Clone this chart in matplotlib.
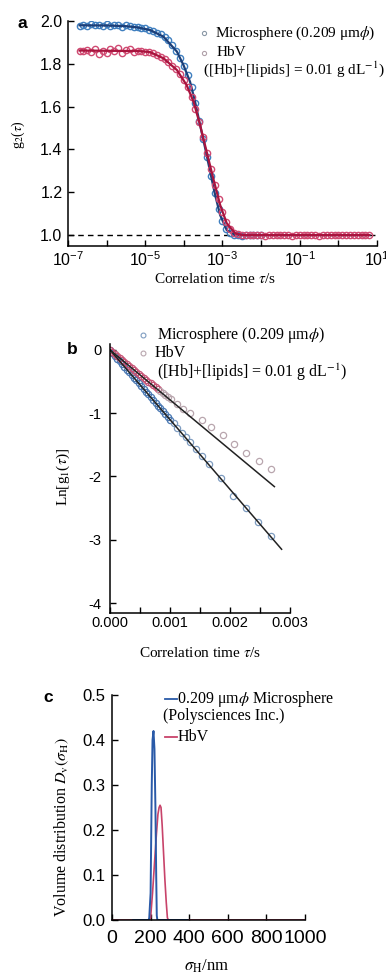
import numpy as np
import matplotlib
matplotlib.use("Agg")
import matplotlib.pyplot as plt
from matplotlib.lines import Line2D
from matplotlib.ticker import MultipleLocator, NullLocator, FormatStrFormatter

plt.rcParams['font.family'] = ['Liberation Sans', 'DejaVu Sans']
plt.rcParams['mathtext.fontset'] = 'stix'

# --- Panel a: g2(tau), markers (log10 tau) and fitted curves ---
a_logtau_ms = [-6.7, -6.6, -6.5, -6.4, -6.3, -6.2, -6.1, -6.0, -5.9, -5.8, -5.7, -5.6,
               -5.5, -5.4, -5.3, -5.2, -5.1, -5.0, -4.9, -4.8, -4.7, -4.6, -4.5, -4.4,
               -4.3, -4.2, -4.1, -4.0, -3.9, -3.8, -3.7, -3.6, -3.5, -3.4, -3.3, -3.2,
               -3.1, -3.0, -2.9, -2.8, -2.7, -2.6, -2.5, -2.4, -2.3, -2.2, -2.1, -2.0]
a_g2_ms = [1.978, 1.982, 1.976, 1.984, 1.979, 1.981, 1.975, 1.986, 1.978, 1.980, 1.983, 1.974,
           1.979, 1.977, 1.972, 1.971, 1.966, 1.965, 1.958, 1.953, 1.946, 1.937, 1.924, 1.910,
           1.890, 1.862, 1.828, 1.790, 1.748, 1.692, 1.615, 1.532, 1.448, 1.363, 1.278, 1.195,
           1.120, 1.065, 1.028, 1.010, 1.002, 0.999, 0.998, 1.000, 0.999, 1.001, 0.999, 1.000]
a_logtau_hbv = [-6.7, -6.6, -6.5, -6.4, -6.3, -6.2, -6.1, -6.0, -5.9, -5.8, -5.7, -5.6,
                -5.5, -5.4, -5.3, -5.2, -5.1, -5.0, -4.9, -4.8, -4.7, -4.6, -4.5, -4.4,
                -4.3, -4.2, -4.1, -4.0, -3.9, -3.8, -3.7, -3.6, -3.5, -3.4, -3.3, -3.2,
                -3.1, -3.0, -2.9, -2.8, -2.7, -2.6, -2.5, -2.4, -2.3, -2.2, -2.1, -2.0,
                -1.9, -1.8, -1.7, -1.6, -1.5, -1.4, -1.3, -1.2, -1.1, -1.0, -0.9, -0.8,
                -0.7, -0.6, -0.5, -0.4, -0.3, -0.2, -0.1, 0.0, 0.1, 0.2, 0.3, 0.4,
                0.5, 0.6, 0.7, 0.8]
a_g2_hbv = [1.862, 1.858, 1.866, 1.855, 1.870, 1.845, 1.862, 1.850, 1.868, 1.858, 1.876, 1.850,
            1.864, 1.870, 1.857, 1.862, 1.858, 1.856, 1.853, 1.849, 1.842, 1.834, 1.822, 1.808,
            1.792, 1.774, 1.752, 1.726, 1.690, 1.646, 1.590, 1.528, 1.460, 1.382, 1.308, 1.236,
            1.168, 1.110, 1.060, 1.030, 1.012, 1.005, 1.002, 1.000, 1.001, 0.999, 1.002, 1.000,
            0.998, 1.001, 1.000, 1.002, 0.999, 1.000, 1.001, 0.998, 1.000, 1.002, 1.000, 0.999,
            1.001, 1.000, 0.998, 1.001, 1.000, 1.002, 0.999, 1.000, 1.001, 0.999, 1.000, 1.002,
            1.000, 0.999, 1.001, 1.000]
a_fit_logtau_ms = [-6.7, -6.0, -5.5, -5.2, -4.88, -4.53, -4.18, -4.01, -3.84, -3.71, -3.58,
                   -3.45, -3.32, -3.19, -3.06, -2.89, -2.67, 0.8]
a_fit_g2_ms = [1.980, 1.979, 1.976, 1.970, 1.958, 1.927, 1.857, 1.794, 1.716, 1.623, 1.514,
               1.407, 1.296, 1.187, 1.093, 1.023, 1.000, 1.000]
a_fit_logtau_hbv = [-6.7, -6.0, -5.5, -5.2, -4.88, -4.53, -4.18, -3.93, -3.75, -3.58, -3.41,
                    -3.24, -3.06, -2.89, -2.67, -2.47, 0.8]
a_fit_g2_hbv = [1.862, 1.861, 1.860, 1.860, 1.855, 1.826, 1.771, 1.701, 1.623, 1.514, 1.389,
                1.265, 1.140, 1.055, 1.008, 1.000, 1.000]

# --- Panel b: Ln g1(tau) vs tau (ms) ---
b_tau_ms = [0.00, 0.04, 0.08, 0.12, 0.16, 0.20, 0.24, 0.28, 0.32, 0.36, 0.40, 0.44, 0.48,
            0.52, 0.56, 0.60, 0.64, 0.68, 0.72, 0.76, 0.80, 0.84, 0.88, 0.92, 0.96, 1.00,
            1.06, 1.12, 1.20, 1.26, 1.34, 1.43, 1.54, 1.65, 1.85, 2.05, 2.27, 2.47, 2.68]
b_lng1_ms = [0.00, -0.05, -0.09, -0.14, -0.17, -0.22, -0.27, -0.31, -0.35, -0.40, -0.44, -0.48,
             -0.53, -0.57, -0.62, -0.66, -0.70, -0.75, -0.79, -0.84, -0.88, -0.92, -0.97,
             -1.01, -1.06, -1.10, -1.16, -1.23, -1.31, -1.38, -1.46, -1.56, -1.68, -1.81,
             -2.03, -2.31, -2.50, -2.72, -2.94]
b_tau_hbv = [0.00, 0.04, 0.08, 0.12, 0.16, 0.20, 0.24, 0.28, 0.32, 0.36, 0.40, 0.44, 0.48,
             0.52, 0.56, 0.60, 0.64, 0.68, 0.72, 0.76, 0.80, 0.84, 0.88, 0.92, 0.96, 1.02,
             1.12, 1.22, 1.34, 1.54, 1.68, 1.88, 2.07, 2.27, 2.49, 2.69]
b_lng1_hbv = [0.00, -0.03, -0.06, -0.10, -0.13, -0.16, -0.19, -0.22, -0.25, -0.28, -0.32,
              -0.35, -0.38, -0.41, -0.44, -0.47, -0.50, -0.53, -0.56, -0.59, -0.62, -0.65,
              -0.68, -0.71, -0.74, -0.78, -0.86, -0.93, -1.00, -1.10, -1.22, -1.35, -1.48,
              -1.63, -1.75, -1.88]
b_fit_tau_ms = [0.0, 2.86]
b_fit_lng1_ms = [0.0, -3.15]
b_fit_tau_hbv = [0.0, 2.74]
b_fit_lng1_hbv = [0.0, -2.16]

# --- Panel c: volume distribution vs hydrodynamic diameter (nm) ---
c_d_ms = [110, 190, 193, 200, 206, 210, 215, 220, 225, 229, 232, 235, 390]
c_dv_ms = [0.0, 0.0, 0.005, 0.06, 0.30, 0.40, 0.42, 0.38, 0.25, 0.10, 0.01, 0.0, 0.0]
c_d_hbv = [0, 195, 200, 210, 220, 230, 238, 244, 249, 254, 260, 267, 274, 281, 287, 292, 1000]
c_dv_hbv = [0.0, 0.0, 0.005, 0.06, 0.125, 0.19, 0.235, 0.25, 0.255, 0.25, 0.21, 0.15, 0.09,
            0.04, 0.005, 0.0, 0.0]

W, H = 386, 975
SERIF = ['Liberation Serif', 'DejaVu Serif']
BLUE_M, RED_M = '#3f7fbf', '#d04a72'

fig = plt.figure(figsize=(W / 100, H / 100), dpi=100)


def rect(x0, y0, x1, y1):
    return [x0 / W, 1 - y1 / H, (x1 - x0) / W, (y1 - y0) / H]


def ftext(x, y, s, **kw):
    fig.text(x / W, 1 - y / H, s, **kw)


def fmark(x, y, **kw):
    fig.add_artist(Line2D([x / W], [1 - y / H], transform=fig.transFigure, **kw))


def fline(x0, x1, y, **kw):
    fig.add_artist(Line2D([x0 / W, x1 / W], [1 - y / H] * 2, transform=fig.transFigure, **kw))


def style(ax, size):
    for s in ['top', 'right']:
        ax.spines[s].set_visible(False)
    for s in ['left', 'bottom']:
        ax.spines[s].set_linewidth(1.1)
    ax.tick_params(which='both', direction='in', length=4, width=1, labelsize=size)


# ---------------- a ----------------
ax1 = fig.add_axes(rect(68, 21, 377, 246))
ax1.set_xscale('log')
ax1.axhline(1.0, color='k', ls=(0, (4, 3)), lw=1, zorder=1)
ax1.plot(10 ** np.array(a_logtau_ms), a_g2_ms, 'o', mfc='none', mec=BLUE_M, ms=4.5, mew=1.0)
ax1.plot(10 ** np.array(a_fit_logtau_ms), a_fit_g2_ms, color='#1d3f78', lw=1.6)
ax1.plot(10 ** np.array(a_logtau_hbv), a_g2_hbv, 'o', mfc='none', mec=RED_M, ms=4.5, mew=1.0)
ax1.plot(10 ** np.array(a_fit_logtau_hbv), a_fit_g2_hbv, color='#a8143e', lw=1.6)
ax1.set_xlim(1e-7, 10)
ax1.set_ylim(0.949, 2.0)
exps = list(range(-7, 2))
ax1.set_xticks([10.0 ** e for e in exps])
ax1.set_xticklabels([r'$\mathregular{10^{%d}}$' % e if (e + 7) % 2 == 0 else '' for e in exps])
ax1.xaxis.set_minor_locator(NullLocator())
ax1.set_yticks([1.0, 1.2, 1.4, 1.6, 1.8, 2.0])
ax1.yaxis.set_major_formatter(FormatStrFormatter('%.1f'))
style(ax1, 11.5)
ax1.tick_params(axis='y', pad=4)
ax1.tick_params(axis='x', pad=3)

ftext(22, 23, 'a', fontsize=12.5, fontweight='bold', ha='center', va='center')
ftext(18, 135, r'g$_2$($\tau$)', family=SERIF, fontsize=10, rotation=90, ha='center', va='center')
ftext(215, 279, r'Correlation time $\tau$/s', family=SERIF, fontsize=11, ha='center', va='center')
fmark(204, 33, marker='o', ms=3, mfc='none', mec='#8a98a6', mew=0.8)
ftext(215, 33, r'Microsphere (0.209 μm$\phi$)', family=SERIF, fontsize=11, va='center')
fmark(204, 53, marker='o', ms=3, mfc='none', mec='#b0a0a8', mew=0.8)
ftext(217, 53, 'HbV', family=SERIF, fontsize=11, va='center')
ftext(203, 69, r'([Hb]+[lipids] = 0.01 g dL$^{-1}$)', family=SERIF, fontsize=11, va='center')

# ---------------- b ----------------
ax2 = fig.add_axes(rect(110, 343.6, 290, 613))
ax2.plot(np.array(b_tau_ms[:26]) * 1e-3, b_lng1_ms[:26], 'o', mfc='none', mec='#4a78b2', ms=4.5, mew=0.9)
ax2.plot(np.array(b_tau_ms[26:]) * 1e-3, b_lng1_ms[26:], 'o', mfc='none', mec='#7e9cc0', ms=4.5, mew=0.9)
ax2.plot(np.array(b_tau_hbv[:21]) * 1e-3, b_lng1_hbv[:21], 'o', mfc='none', mec='#c65576', ms=4.5, mew=0.9)
ax2.plot(np.array(b_tau_hbv[21:]) * 1e-3, b_lng1_hbv[21:], 'o', mfc='none', mec='#b9a6ae', ms=4.5, mew=0.9)
ax2.plot(np.array(b_fit_tau_ms) * 1e-3, b_fit_lng1_ms, color='#222222', lw=1.1)
ax2.plot(np.array(b_fit_tau_hbv) * 1e-3, b_fit_lng1_hbv, color='#222222', lw=1.1)
ax2.set_xlim(0, 0.003)
ax2.set_ylim(-4.157, 0.1)
ax2.set_xticks([0, 0.001, 0.002, 0.003])
ax2.xaxis.set_major_formatter(FormatStrFormatter('%.3f'))
ax2.xaxis.set_minor_locator(MultipleLocator(0.0005))
ax2.set_yticks([0, -1, -2, -3, -4])
ax2.set_yticklabels(['0', '-1', '-2', '-3', '-4'])
style(ax2, 10.5)
ax2.tick_params(axis='y', pad=6)
ax2.tick_params(axis='x', pad=2)

ftext(72, 350, 'b', fontsize=12.5, fontweight='bold', ha='center', va='center')
ftext(63, 477, r'Ln[g$_1$($\tau$)]', family=SERIF, fontsize=11, rotation=90, ha='center', va='center')
ftext(200, 653, r'Correlation time $\tau$/s', family=SERIF, fontsize=11, ha='center', va='center')
fmark(143, 335, marker='o', ms=3.5, mfc='none', mec='#7e9cc0', mew=0.8)
ftext(157, 335, r'Microsphere (0.209 μm$\phi$)', family=SERIF, fontsize=11.5, va='center')
fmark(143, 353, marker='o', ms=3.5, mfc='none', mec='#b9a6ae', mew=0.8)
ftext(155, 353, 'HbV', family=SERIF, fontsize=11.5, va='center')
ftext(157, 372, r'([Hb]+[lipids] = 0.01 g dL$^{-1}$)', family=SERIF, fontsize=11.5, va='center')

# ---------------- c ----------------
ax3 = fig.add_axes(rect(112, 695, 305, 920))
ax3.plot(c_d_hbv, c_dv_hbv, color='#c8436a', lw=1.2)
ax3.plot(c_d_ms, c_dv_ms, color='#2a5aa8', lw=1.4)
ax3.set_xlim(0, 1000)
ax3.set_ylim(0, 0.5)
ax3.set_xticks([0, 200, 400, 600, 800, 1000])
ax3.set_yticks([0.0, 0.1, 0.2, 0.3, 0.4, 0.5])
ax3.yaxis.set_major_formatter(FormatStrFormatter('%.1f'))
style(ax3, 12.5)
ax3.tick_params(axis='y', pad=5, labelsize=12)
ax3.tick_params(axis='x', pad=7, labelsize=14)

ftext(48, 697, 'c', fontsize=12.5, fontweight='bold', ha='center', va='center')
ftext(62, 827, r'Volume distribution $D_\mathrm{v}(\sigma_\mathrm{H})$', family=SERIF, fontsize=11.5,
      rotation=90, ha='center', va='center')
ftext(207, 966, r'$\sigma_\mathrm{H}$/nm', family=SERIF, fontsize=12, ha='center', va='center')
fline(165, 177, 699, color='#2a5aa8', lw=1.3)
ftext(177, 699, r'0.209 μm$\phi$ Microsphere', family=SERIF, fontsize=11.5, va='center')
ftext(163, 716, '(Polysciences Inc.)', family=SERIF, fontsize=11.5, va='center')
fline(165, 177, 737, color='#c8436a', lw=1.3)
ftext(178, 737, 'HbV', family=SERIF, fontsize=11.5, va='center')

fig.savefig('out.png', dpi=100)
